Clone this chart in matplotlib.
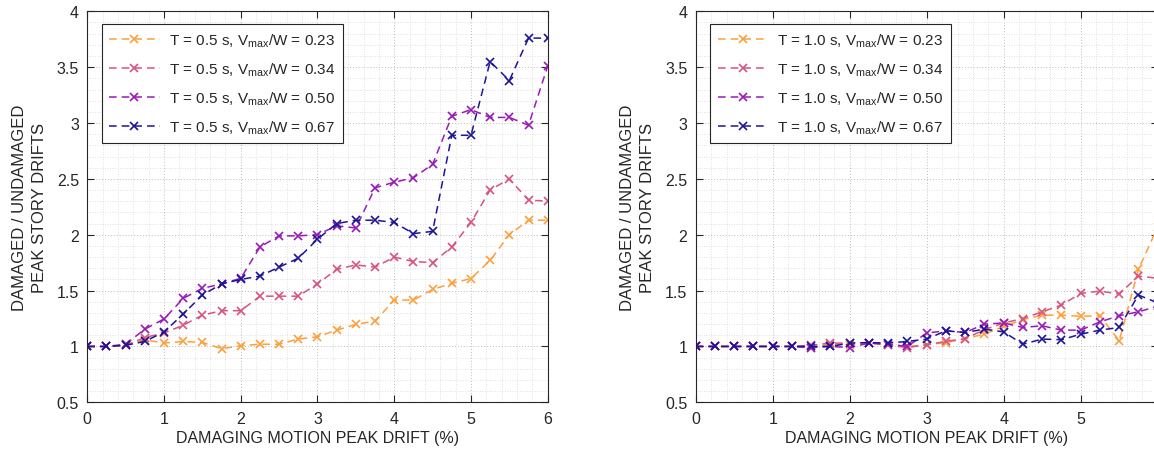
import matplotlib
matplotlib.use("Agg")
import matplotlib.pyplot as plt
from matplotlib.ticker import MultipleLocator

plt.rcParams['font.family'] = ['Liberation Sans', 'DejaVu Sans']
plt.rcParams['mathtext.fontset'] = 'custom'
plt.rcParams['mathtext.rm'] = 'Liberation Sans'
plt.rcParams['mathtext.it'] = 'Liberation Sans:italic'

drift = [0, 0.25, 0.5, 0.75, 1.0, 1.25, 1.5, 1.75, 2.0, 2.25, 2.5, 2.75, 3.0,
         3.25, 3.5, 3.75, 4.0, 4.25, 4.5, 4.75, 5.0, 5.25, 5.5, 5.75, 6.0]

ratios = ['0.23', '0.34', '0.50', '0.67']
colors = ['#fca03e', '#d6547e', '#9a1ab8', '#1c1596']

# T = 0.5 s
left_023 = [1.0, 1.0, 1.01, 1.06, 1.03, 1.045, 1.036, 0.98, 1.006, 1.02, 1.02, 1.066, 1.087,
            1.146, 1.197, 1.227, 1.415, 1.415, 1.51, 1.564, 1.608, 1.77, 2.0, 2.13, 2.13]
left_034 = [1.0, 1.0, 1.01, 1.08, 1.12, 1.19, 1.28, 1.32, 1.32, 1.45, 1.45, 1.45, 1.56,
            1.69, 1.73, 1.71, 1.80, 1.76, 1.75, 1.89, 2.11, 2.40, 2.50, 2.31, 2.30]
left_050 = [1.0, 1.0, 1.02, 1.155, 1.246, 1.43, 1.52, 1.56, 1.61, 1.89, 1.99, 1.99, 2.0,
            2.08, 2.06, 2.42, 2.47, 2.51, 2.63, 3.06, 3.12, 3.05, 3.05, 2.98, 3.51]
left_067 = [1.0, 1.0, 1.01, 1.045, 1.13, 1.29, 1.46, 1.56, 1.60, 1.63, 1.71, 1.79, 1.96,
            2.10, 2.13, 2.13, 2.11, 2.01, 2.03, 2.89, 2.89, 3.55, 3.38, 3.76, 3.76]

# T = 1.0 s
right_023 = [1.0, 1.0, 1.0, 1.0, 1.0, 1.0, 0.99, 1.02, 1.015, 1.03, 1.015, 1.0, 1.015,
             1.035, 1.07, 1.11, 1.18, 1.24, 1.28, 1.28, 1.27, 1.275, 1.05, 1.69, 2.07]
right_034 = [1.0, 1.0, 1.0, 1.0, 1.0, 1.0, 1.01, 1.03, 1.03, 1.035, 1.01, 0.99, 1.015,
             1.045, 1.07, 1.15, 1.21, 1.25, 1.31, 1.37, 1.475, 1.495, 1.47, 1.63, 1.61]
right_050 = [1.0, 1.0, 1.0, 1.0, 1.0, 1.0, 0.99, 1.0, 0.99, 1.03, 1.02, 1.0, 1.12,
             1.14, 1.125, 1.2, 1.21, 1.17, 1.185, 1.146, 1.146, 1.22, 1.275, 1.31, 1.36]
right_067 = [1.0, 1.0, 1.0, 1.0, 1.0, 1.0, 1.0, 1.0, 1.03, 1.035, 1.03, 1.045, 1.066,
             1.14, 1.125, 1.155, 1.13, 1.02, 1.066, 1.06, 1.11, 1.146, 1.17, 1.46, 1.39]

xticks = [0, 1, 2, 3, 4, 5, 6]
yticks = [0.5, 1, 1.5, 2, 2.5, 3, 3.5, 4]
ytick_labels = ['0.5', '1', '1.5', '2', '2.5', '3', '3.5', '4']

W, H = 1154, 456
fig = plt.figure(figsize=(W / 100, H / 100), dpi=100)
ax1 = fig.add_axes([87.3 / W, (H - 403.3) / H, 460.4 / W, 391 / H])
ax2 = fig.add_axes([695.7 / W, (H - 403.3) / H, 462 / W, 391 / H])

text_color = '#262626'
panels = [
    (ax1, '0.5', [left_023, left_034, left_050, left_067]),
    (ax2, '1.0', [right_023, right_034, right_050, right_067]),
]

for ax, T, series in panels:
    for vals, r, c in zip(series, ratios, colors):
        ax.plot(drift, vals, linestyle=(0, (5, 3.3)), color=c, linewidth=1.1,
                marker='x', markersize=6.3, markeredgewidth=1.2,
                label=r'T = %s s, V$_{\mathrm{max}}$/W = %s' % (T, r))
    ax.set_xlim(0, 6)
    ax.set_ylim(0.5, 4)
    ax.set_xticks(xticks)
    ax.set_xticklabels([str(t) for t in xticks])
    ax.set_yticks(yticks)
    ax.set_yticklabels(ytick_labels)
    ax.xaxis.set_minor_locator(MultipleLocator(0.2))
    ax.yaxis.set_minor_locator(MultipleLocator(0.1))
    ax.grid(True, which='major', linestyle=(0, (1, 2)), color='#bcbcbc', linewidth=0.7)
    ax.grid(True, which='minor', linestyle=(0, (1, 2)), color='#d6d6d6', linewidth=0.6)
    ax.set_axisbelow(True)
    ax.tick_params(which='major', direction='in', length=5, top=True, right=True,
                   labelsize=11.5, colors=text_color, width=0.8, pad=6)
    ax.tick_params(which='minor', length=0, top=True, right=True)
    for sp in ax.spines.values():
        sp.set_color('#262626')
        sp.set_linewidth(0.8)
    ax.set_xlabel('DAMAGING MOTION PEAK DRIFT (%)', fontsize=11.5, color=text_color, labelpad=3)
    ax.set_ylabel('DAMAGED / UNDAMAGED\nPEAK STORY DRIFTS', fontsize=12, color=text_color,
                  multialignment='center', labelpad=7, linespacing=1.45)
    leg = ax.legend(loc='upper left', bbox_to_anchor=(0.031, 0.9675), borderaxespad=0,
                    fontsize=11, fancybox=False, framealpha=1, edgecolor='#262626',
                    handlelength=3.3, labelspacing=0.75, borderpad=0.5, handletextpad=0.6)
    leg.get_frame().set_linewidth(0.8)
    for t in leg.get_texts():
        t.set_color(text_color)

fig.savefig('out.png', dpi=100)
